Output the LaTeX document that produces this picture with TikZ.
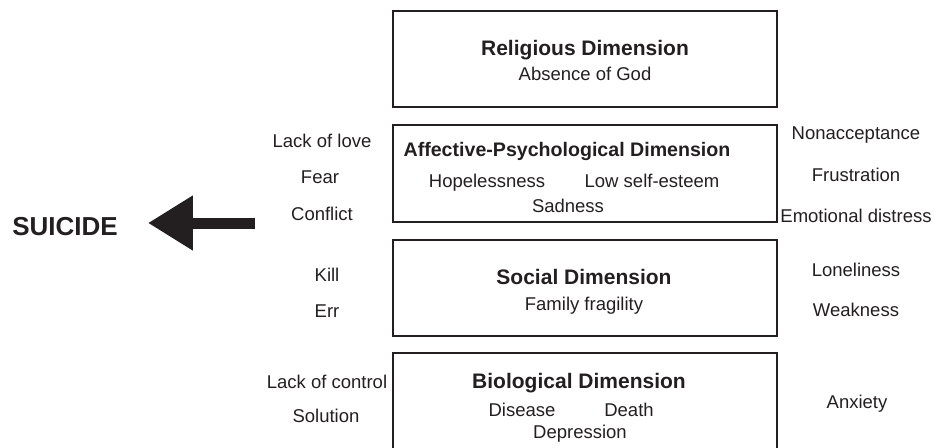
\documentclass[tikz,border=0pt]{standalone}
\usepackage{fontspec}
\setmainfont{Liberation Sans}
\usepackage{tikz}
\usetikzlibrary{arrows.meta}
\definecolor{inkgray}{HTML}{231F20}

\begin{document}
\begin{tikzpicture}[x=1pt,y=-1pt,
            dimbox/.style={draw=inkgray,line width=2.4pt,minimum width=384pt,inner sep=0pt},
            dimtitle/.style={anchor=base,inner sep=0pt,text=inkgray,font=\fontsize{21}{24}\selectfont\bfseries},
            item/.style={anchor=base,inner sep=0pt,text=inkgray,font=\fontsize{18.5}{22}\selectfont}]
            \useasboundingbox (0,0) rectangle (934,447);
            \clip (0,0) rectangle (934,447);
            % the four dimensions
            \node[dimbox,minimum height=96pt] (religious) at (585,59) {};
            \node[dimbox,minimum height=97pt] (affective) at (585,173.5) {};
            \node[dimbox,minimum height=96pt] (social) at (585,288) {};
            \node[dimbox,minimum height=107pt] (biological) at (585,406.5) {};
            \node[dimtitle] (reltitle) at (585,55) {Religious Dimension};
            \node[item] (god) at (585,80) {Absence of God};
            \node[dimtitle,font=\fontsize{19.6}{23}\selectfont\bfseries] (afftitle) at (567,156) {Affective-Psychological Dimension};
            \node[item] (hope) at (487,187) {Hopelessness};
            \node[item] (esteem) at (652,187) {Low self-esteem};
            \node[item] (sad) at (568,212) {Sadness};
            \node[dimtitle] (soctitle) at (584,284) {Social Dimension};
            \node[item] (family) at (584,310) {Family fragility};
            \node[dimtitle] (biotitle) at (579,388) {Biological Dimension};
            \node[item] (disease) at (522,416) {Disease};
            \node[item] (death) at (629,416) {Death};
            \node[item] (depress) at (580,438) {Depression};
            % left side
            \node[item] (love) at (322,147) {Lack of love};
            \node[item] (fear) at (320,183) {Fear};
            \node[item] (conflict) at (322,220) {Conflict};
            \node[item] (kill) at (327,281) {Kill};
            \node[item] (err) at (327,317) {Err};
            \node[item] (control) at (327,388) {Lack of control};
            \node[item] (solution) at (326,422) {Solution};
            % right side
            \node[item] (nonaccept) at (856,139) {Nonacceptance};
            \node[item] (frustr) at (856,181) {Frustration};
            \node[item] (distress) at (856,222) {Emotional distress};
            \node[item] (lonely) at (856,276) {Loneliness};
            \node[item] (weak) at (856,316) {Weakness};
            \node[item] (anxiety) at (857,408) {Anxiety};
            % suicide and the arrow
            \node[item,font=\fontsize{26}{30}\selectfont\bfseries] (suicide) at (65,235) {SUICIDE};
            \coordinate (tail) at (255,223);
            \draw[inkgray,line width=11pt,shorten >=30pt,-{Triangle[length=45pt,width=52pt]}] (tail) -- (tail -| suicide.east);
        \end{tikzpicture}
\end{document}
